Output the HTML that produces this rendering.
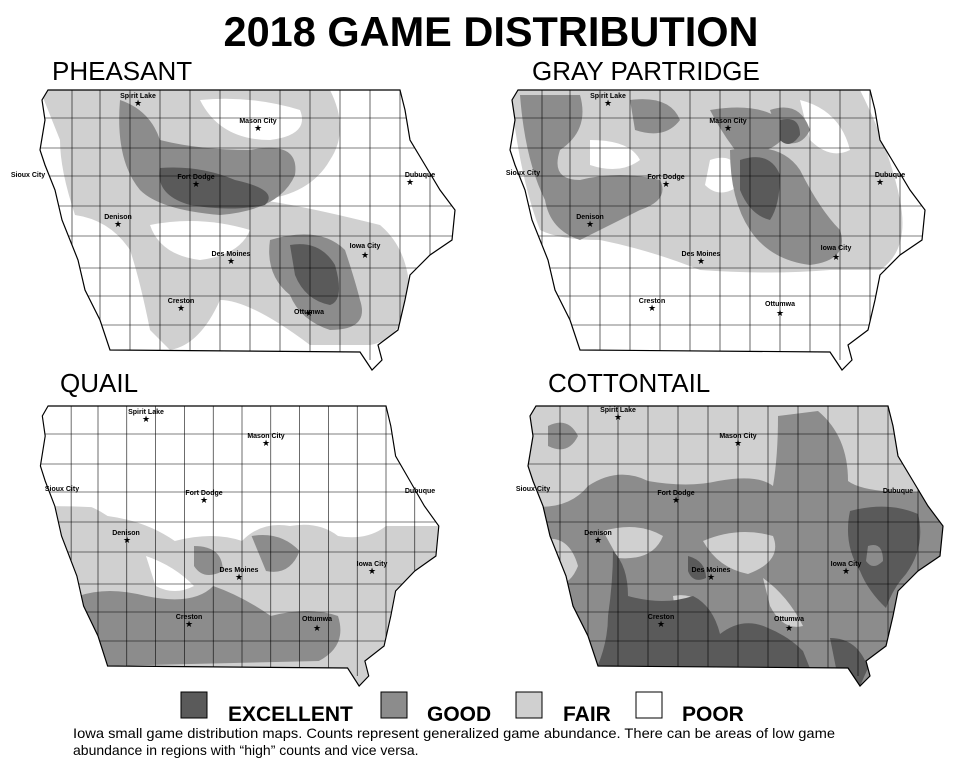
<!DOCTYPE html>
<html><head><meta charset="utf-8"><style>
body{margin:0;background:#fff;width:973px;height:777px;overflow:hidden;font-family:"Liberation Sans",Arial,sans-serif}
</style></head><body>
<svg width="973" height="777" viewBox="0 0 973 777" xmlns="http://www.w3.org/2000/svg" font-family="Liberation Sans, Arial, sans-serif">
<defs>
<path id="ia" d="M48,90 L400,90 L405,110 L410,140 L425,165 L440,190 L455,210 L452,240 L430,255 L410,275 L405,300 L398,330 L378,345 L382,360 L372,370 L360,352 L110,350 L100,320 L85,290 L78,260 L62,220 L55,190 L45,165 L40,150 L45,120 L42,100 Z"/>
<clipPath id="clip"><use href="#ia"/></clipPath>
<g id="grid" stroke="#000" stroke-width="0.6" fill="none">
<path d="M40,118H460M40,148H460M40,176H460M40,206H460M40,236H460M40,268H460M40,296H460M40,325H460"/>
<path d="M72,90V360M100,90V360M130,90V360M160,90V360M190,90V360M220,90V360M250,90V360M280,90V360M310,90V360M340,90V360M370,90V360M400,90V360M430,90V360"/>
</g>
</defs>

<text x="491" y="46" text-anchor="middle" font-size="41.5" font-weight="bold">2018 GAME DISTRIBUTION</text>
<text x="52" y="80" font-size="26">PHEASANT</text>
<text x="532" y="80" font-size="26">GRAY PARTRIDGE</text>
<text x="60" y="392" font-size="26">QUAIL</text>
<text x="548" y="392" font-size="26">COTTONTAIL</text>

<!-- PHEASANT -->
<g>
<g clip-path="url(#clip)">
<use href="#ia" fill="#fff"/>
<path fill="#d0d0d0" d="M40,90 L330,90 Q350,130 330,160 Q310,195 260,200 Q300,205 380,225 Q410,250 410,300 Q400,340 370,345 L310,345 Q250,300 220,300 Q200,345 170,350 L150,330 Q140,280 130,250 Q110,220 75,215 Q60,170 60,140 Z"/>
<path fill="#fff" d="M150,225 Q200,215 250,230 Q240,255 200,260 Q160,255 150,225Z"/>
<path fill="#fff" d="M200,100 Q250,95 300,110 Q310,135 270,140 Q220,140 200,100Z"/>
<path fill="#8c8c8c" d="M120,100 Q150,110 160,140 Q200,150 250,150 Q300,140 295,175 Q280,210 220,215 Q160,210 140,190 Q115,160 120,100Z"/>
<path fill="#8c8c8c" d="M270,240 Q320,225 345,250 Q355,280 360,300 Q370,330 330,330 Q300,320 290,295 Q265,275 270,240Z"/>
<path fill="#5a5a5a" d="M160,168 Q200,165 235,180 Q280,190 265,205 Q230,212 190,205 Q155,195 160,168Z"/>
<path fill="#5a5a5a" d="M290,245 Q320,240 335,265 Q345,300 330,305 Q305,300 295,275Z"/>
<use href="#grid"/>
</g>
<use href="#ia" fill="none" stroke="#000" stroke-width="1.2"/>
</g>

<!-- GRAY PARTRIDGE -->
<g transform="translate(470,0)">
<g clip-path="url(#clip)">
<use href="#ia" fill="#fff"/>
<path fill="#d0d0d0" d="M40,90 L390,90 Q420,150 430,200 Q440,250 410,270 Q380,270 360,270 Q300,275 230,270 Q180,250 130,240 Q90,240 70,230 Q50,180 40,90Z"/>
<path fill="#fff" d="M120,140 Q160,140 170,160 Q150,175 120,165Z"/>
<path fill="#fff" d="M240,160 Q270,150 270,185 Q250,200 235,185Z"/>
<path fill="#fff" d="M330,100 Q370,110 380,150 Q360,160 340,140Z"/>
<path fill="#8c8c8c" d="M50,95 L110,95 Q120,130 90,150 Q80,180 110,180 Q150,170 190,180 Q200,200 170,210 Q130,230 110,240 Q80,230 75,200 Q55,160 50,95Z"/>
<path fill="#8c8c8c" d="M160,100 Q200,95 210,120 Q195,140 165,130Z"/>
<path fill="#8c8c8c" d="M240,110 Q300,100 320,130 Q300,160 265,150 Q250,130 240,110Z"/>
<path fill="#8c8c8c" d="M260,150 Q310,140 330,170 Q350,210 370,230 Q380,260 340,265 Q300,260 280,230 Q260,200 260,150Z"/>
<path fill="#8c8c8c" d="M300,110 Q330,100 340,130 Q330,150 310,140Z"/>
<path fill="#5a5a5a" d="M270,160 Q300,150 310,175 Q310,205 300,220 Q280,215 270,190Z"/>
<path fill="#5a5a5a" d="M310,120 Q330,115 330,135 Q320,150 310,140Z"/>
<use href="#grid"/>
</g>
<use href="#ia" fill="none" stroke="#000" stroke-width="1.2"/>
</g>

<!-- QUAIL -->
<g transform="translate(2,316) scale(0.96,1)">
<g clip-path="url(#clip)">
<use href="#ia" fill="#fff"/>
<path fill="#d0d0d0" d="M40,185 Q80,180 110,200 Q150,205 180,225 Q220,215 250,225 Q270,205 300,210 Q330,205 350,220 Q380,225 400,210 L460,210 L460,370 L40,370Z"/>
<path fill="#fff" d="M150,240 Q180,250 200,270 Q180,280 160,270Z"/>
<path fill="#fff" d="M40,100 L460,100 L460,200 Q400,195 360,198 Q330,195 300,198 Q260,195 230,205 Q180,205 140,195 Q100,190 40,190Z"/>
<path fill="#8c8c8c" d="M80,280 Q110,270 150,280 Q200,290 220,270 Q250,280 280,300 Q320,290 350,300 Q360,330 330,345 L110,350 Q80,320 80,280Z"/>
<path fill="#8c8c8c" d="M260,220 Q290,215 310,235 Q300,260 275,255Z"/>
<path fill="#8c8c8c" d="M200,230 Q230,230 230,255 Q210,265 200,250Z"/>
<use href="#grid"/>
</g>
<use href="#ia" fill="none" stroke="#000" stroke-width="1.2"/>
</g>

<!-- COTTONTAIL -->
<g transform="translate(488,316)">
<g clip-path="url(#clip)">
<use href="#ia" fill="#fff"/>
<path fill="#d0d0d0" d="M40,90 L460,90 L460,370 L40,370Z"/>
<path fill="#8c8c8c" d="M40,190 Q80,195 100,170 Q130,150 160,165 Q200,172 230,165 Q270,158 285,170 Q290,140 290,100 L330,95 Q360,120 360,165 Q380,180 460,175 L460,370 L40,370Z"/>
<path fill="#8c8c8c" d="M60,110 Q80,100 90,120 Q80,140 60,130Z"/>
<path fill="#d0d0d0" d="M50,225 Q80,215 90,250 Q80,275 60,265Z"/>
<path fill="#d0d0d0" d="M115,215 Q150,205 175,220 Q165,245 130,242Z"/>
<path fill="#d0d0d0" d="M215,225 Q250,210 285,220 Q295,245 260,258 Q230,252 215,225Z"/>
<path fill="#d0d0d0" d="M275,262 Q300,280 315,310 Q295,315 282,290Z"/>
<path fill="#d0d0d0" d="M185,280 Q210,275 222,300 Q205,318 188,302Z"/>
<path fill="#5a5a5a" d="M125,235 Q140,250 140,280 Q175,290 205,280 Q225,290 232,318 Q255,300 280,312 Q300,320 315,335 L325,360 L105,360 Q120,330 120,300 Q125,265 125,235Z"/>
<path fill="#5a5a5a" d="M362,195 Q400,185 430,198 Q438,230 418,258 Q405,272 398,292 Q380,275 372,255 Q355,228 362,195Z"/>
<path fill="#5a5a5a" d="M342,322 Q370,322 380,352 L372,370 L348,352Z"/>
<path fill="#5a5a5a" d="M200,240 Q218,245 218,262 Q205,268 200,255Z"/>
<path fill="#8c8c8c" d="M380,230 Q395,225 395,245 Q385,255 378,245Z"/>
<use href="#grid"/>
</g>
<use href="#ia" fill="none" stroke="#000" stroke-width="1.2"/>
</g>

<!-- City labels -->
<g font-size="7" font-weight="bold" text-anchor="middle">
<text x="138" y="98">Spirit Lake</text><text x="258" y="123">Mason City</text><text x="28" y="177">Sioux City</text><text x="196" y="179">Fort Dodge</text><text x="420" y="177">Dubuque</text><text x="118" y="219">Denison</text><text x="231" y="256">Des Moines</text><text x="365" y="248">Iowa City</text><text x="181" y="303">Creston</text><text x="309" y="314">Ottumwa</text>
<text x="608" y="98">Spirit Lake</text><text x="728" y="123">Mason City</text><text x="523" y="175">Sioux City</text><text x="666" y="179">Fort Dodge</text><text x="890" y="177">Dubuque</text><text x="590" y="219">Denison</text><text x="701" y="256">Des Moines</text><text x="836" y="250">Iowa City</text><text x="652" y="303">Creston</text><text x="780" y="306">Ottumwa</text>
<text x="146" y="414">Spirit Lake</text><text x="266" y="438">Mason City</text><text x="62" y="491">Sioux City</text><text x="204" y="495">Fort Dodge</text><text x="420" y="493">Dubuque</text><text x="126" y="535">Denison</text><text x="239" y="572">Des Moines</text><text x="372" y="566">Iowa City</text><text x="189" y="619">Creston</text><text x="317" y="621">Ottumwa</text>
<text x="618" y="412">Spirit Lake</text><text x="738" y="438">Mason City</text><text x="533" y="491">Sioux City</text><text x="676" y="495">Fort Dodge</text><text x="898" y="493">Dubuque</text><text x="598" y="535">Denison</text><text x="711" y="572">Des Moines</text><text x="846" y="566">Iowa City</text><text x="661" y="619">Creston</text><text x="789" y="621">Ottumwa</text>
</g>
<g font-size="9" text-anchor="middle">
<text x="138" y="106">★</text><text x="258" y="131">★</text><text x="196" y="187">★</text><text x="410" y="185">★</text><text x="118" y="227">★</text><text x="231" y="264">★</text><text x="365" y="258">★</text><text x="181" y="311">★</text><text x="309" y="316">★</text>
<text x="608" y="106">★</text><text x="728" y="131">★</text><text x="666" y="187">★</text><text x="880" y="185">★</text><text x="590" y="227">★</text><text x="701" y="264">★</text><text x="836" y="260">★</text><text x="652" y="311">★</text><text x="780" y="316">★</text>
<text x="146" y="422">★</text><text x="266" y="446">★</text><text x="204" y="503">★</text><text x="127" y="543">★</text><text x="239" y="580">★</text><text x="372" y="574">★</text><text x="189" y="627">★</text><text x="317" y="631">★</text>
<text x="618" y="420">★</text><text x="738" y="446">★</text><text x="676" y="503">★</text><text x="598" y="543">★</text><text x="711" y="580">★</text><text x="846" y="574">★</text><text x="661" y="627">★</text><text x="789" y="631">★</text>
</g>

<!-- Legend -->
<rect x="181" y="692" width="26" height="26" fill="#5a5a5a" stroke="#000"/>
<text x="228" y="721" font-size="21" font-weight="bold">EXCELLENT</text>
<rect x="381" y="692" width="26" height="26" fill="#8c8c8c" stroke="#000"/>
<text x="427" y="721" font-size="21" font-weight="bold">GOOD</text>
<rect x="516" y="692" width="26" height="26" fill="#d0d0d0" stroke="#000"/>
<text x="563" y="721" font-size="21" font-weight="bold">FAIR</text>
<rect x="636" y="692" width="26" height="26" fill="#fff" stroke="#000"/>
<text x="682" y="721" font-size="21" font-weight="bold">POOR</text>
<text x="73" y="738" font-size="14" textLength="762" lengthAdjust="spacingAndGlyphs">Iowa small game distribution maps. Counts represent generalized game abundance.  There can be areas of low game</text>
<text x="73" y="755" font-size="14">abundance in regions with “high” counts and vice versa.</text>
</svg>
</body></html>
